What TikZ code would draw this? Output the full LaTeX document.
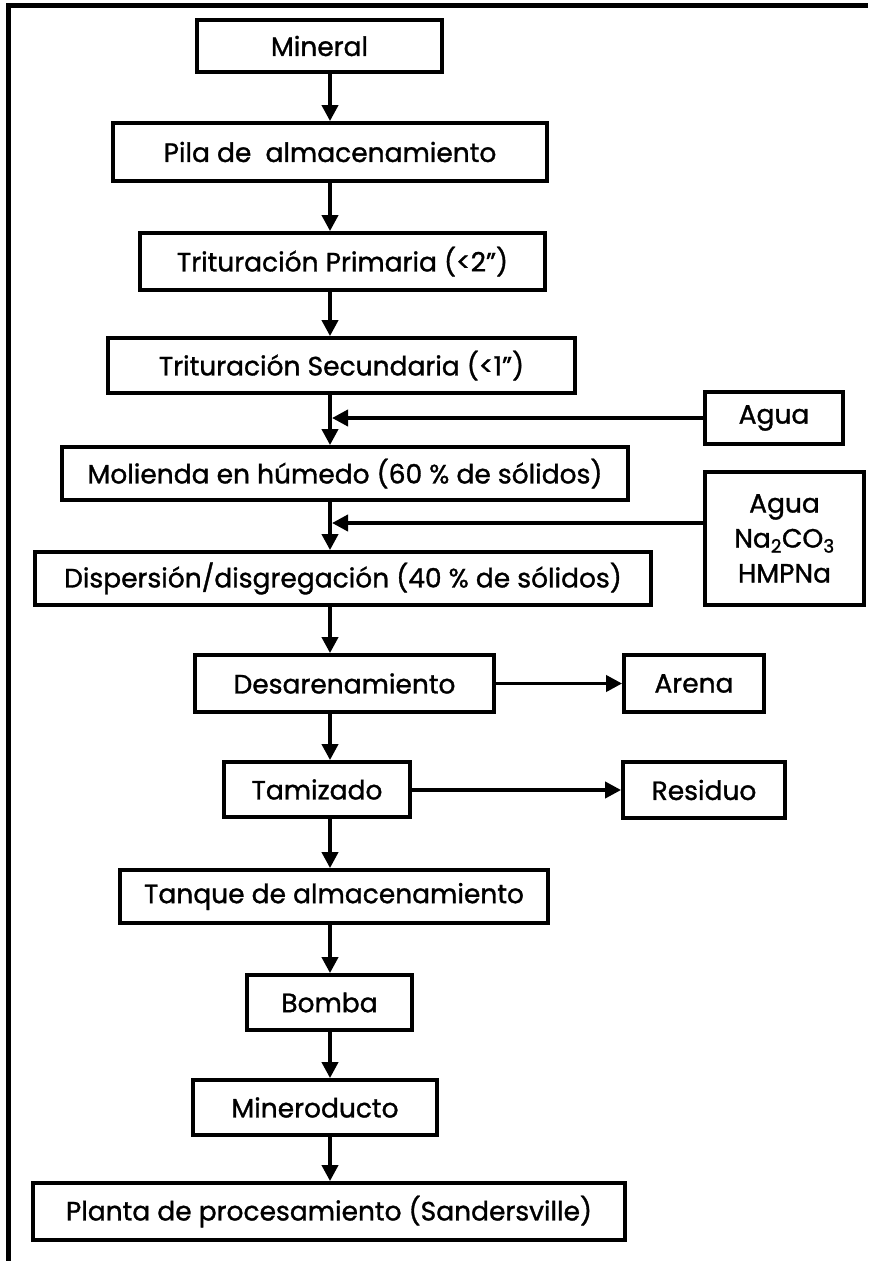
\documentclass[tikz,border=0pt]{standalone}
\usepackage{fontspec}
\setmainfont{Poppins}[FakeBold=1.2]
\usetikzlibrary{arrows.meta}
\begin{document}
\begin{tikzpicture}[x=1pt,y=-1pt,
  box/.style={draw, line width=3.8pt, inner sep=0pt, align=center,
    font=\fontsize{26.5}{35}\selectfont},
  link/.style={line width=3.8pt, -{Triangle[length=16pt,width=16pt]}},
  frameline/.style={line width=5.5pt}]
\useasboundingbox (0,0) rectangle (868,1261);

% outer frame (top and left edges)
\draw[frameline] (8.5,1261) -- (8.5,5.5) -- (868,5.5);

% main process column
\node[box, minimum width=245pt, minimum height=52pt] (mineral) at (319.5,46) {Mineral};
\node[box, minimum width=434pt, minimum height=58pt] (pila) at (330,152) {Pila de\ \ almacenamiento};
\node[box, minimum width=405pt, minimum height=57pt] (prim) at (342.5,261.5) {Trituración Primaria (<2")};
\node[box, minimum width=467pt, minimum height=55pt] (sec) at (341.5,365.5) {Trituración Secundaria (<1")};
\node[box, minimum width=566pt, minimum height=53pt] (mol) at (345,473.5) {Molienda en húmedo (60 \% de sólidos)};
\node[box, minimum width=616pt, minimum height=53pt] (disp) at (343,578.5) {Dispersión/disgregación (40 \% de sólidos)};
\node[box, minimum width=299pt, minimum height=57pt] (des) at (344.5,683.5) {Desarenamiento};
\node[box, minimum width=186pt, minimum height=55pt] (tam) at (317,789.5) {Tamizado};
\node[box, minimum width=428pt, minimum height=53pt] (tanque) at (334,896.5) {Tanque de almacenamiento};
\node[box, minimum width=165pt, minimum height=55pt] (bomba) at (329.5,1002.5) {Bomba};
\node[box, minimum width=244pt, minimum height=55pt] (mino) at (315,1107.5) {Mineroducto};
\node[box, minimum width=592pt, minimum height=57pt] (planta) at (329,1211.5) {Planta de procesamiento (Sandersville)};

% side inputs and outputs
\node[box, minimum width=138pt, minimum height=52pt] (aqua) at (774,418) {Agua};
\node[box, minimum width=159pt, minimum height=133pt] (agua) at (784.5,538.5) {Agua\\Na\textsubscript{2}CO\textsubscript{3}\\HMPNa};
\node[box, minimum width=140pt, minimum height=57pt] (arena) at (694,683.5) {Arena};
\node[box, minimum width=162pt, minimum height=56pt] (res) at (704,790) {Residuo};

% spine of the flow and junction points
\coordinate (sx) at (330,0);
\coordinate (j1) at (330,418);
\coordinate (j2) at (330,523);

\draw[link] (mineral.south -| sx) -- (pila.north -| sx);
\draw[link] (pila.south -| sx) -- (prim.north -| sx);
\draw[link] (prim.south -| sx) -- (sec.north -| sx);
\draw[link] (sec.south -| sx) -- (mol.north -| sx);
\draw[link] (mol.south -| sx) -- (disp.north -| sx);
\draw[link] (disp.south -| sx) -- (des.north -| sx);
\draw[link] (des.south -| sx) -- (tam.north -| sx);
\draw[link] (tam.south -| sx) -- (tanque.north -| sx);
\draw[link] (tanque.south -| sx) -- (bomba.north -| sx);
\draw[link] (bomba.south -| sx) -- (mino.north -| sx);
\draw[link] (mino.south -| sx) -- (planta.north -| sx);

\draw[link] (aqua.west) -- ([xshift=2pt]j1);
\draw[link] (j2 -| agua.west) -- ([xshift=2pt]j2);
\draw[link] (des.east) -- (arena.west);
\draw[link] (tam.east |- res.west) -- (res.west);
\end{tikzpicture}
\end{document}
